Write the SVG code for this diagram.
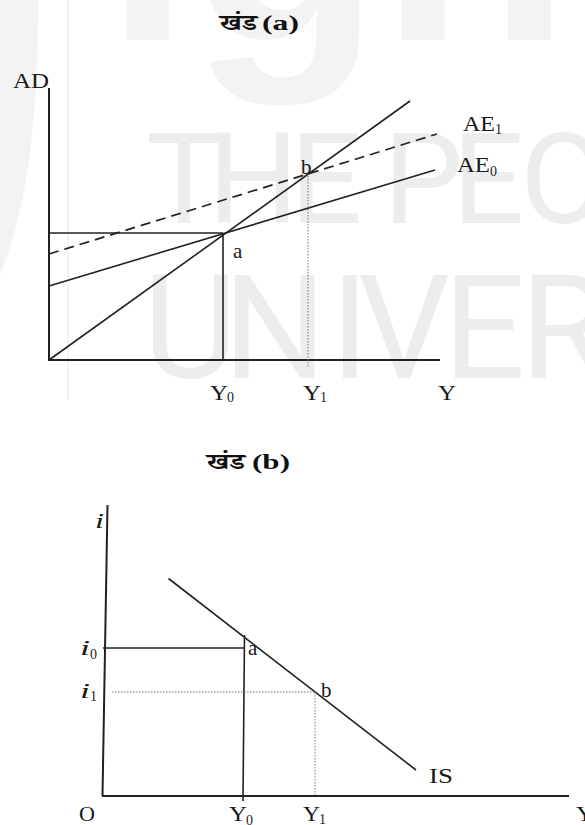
<svg xmlns="http://www.w3.org/2000/svg" width="585" height="825" viewBox="0 0 585 825">
<style>
.wm{fill:#ededed;font-family:Roboto,"Liberation Sans",sans-serif}
.lbl{font-family:"Liberation Serif","Times New Roman",serif;font-size:21px;fill:#1a1a1a}
.it{font-style:italic}
.ttl{font-family:"Liberation Serif","Noto Serif Devanagari","Noto Sans Devanagari","Lohit Devanagari",serif;font-size:22px;font-weight:bold;fill:#111}
.sub{font-size:14px}
.ax{stroke:#222;stroke-width:2;fill:none}
.ln{stroke:#222;stroke-width:1.6;fill:none}
.dash{stroke:#222;stroke-width:1.7;stroke-dasharray:10 6;fill:none}
.dot{stroke:#777;stroke-width:1;stroke-dasharray:1.5 1.5;fill:none}
</style>
<rect width="585" height="825" fill="#ffffff"/>
<g id="watermark">
<path d="M0,0 L38,0 C38,110 30,200 0,275 Z" fill="#f3f3f3"/>
<line x1="68" y1="0" x2="68" y2="400" stroke="#e6e6e6" stroke-width="1"/>
<text x="105" y="40" font-family="'Liberation Sans',sans-serif" font-weight="bold" font-size="310" fill="#f3f3f3">ignou</text>
<text class="wm" font-size="127" x="146 208 290 383 452 520" y="223">THEPEO</text>
<text class="wm" font-size="145" x="143 223 330 358 443 520" y="378">UNIVER</text>
</g>
<g id="panel-a">
<text class="ttl" x="220" y="30" textLength="37" lengthAdjust="spacingAndGlyphs">खंड</text>
<text class="ttl" x="262" y="30" textLength="37" lengthAdjust="spacingAndGlyphs">(a)</text>
<g id="connectors-a">
<line class="ax" x1="49" y1="88" x2="49" y2="360"/>
<line class="ax" x1="48" y1="360" x2="440" y2="360"/>
<line class="ln" x1="49" y1="360" x2="410" y2="101"/>
<line class="ln" x1="49" y1="286" x2="435" y2="170"/>
<line class="dash" x1="49" y1="254" x2="437" y2="134"/>
<line class="ln" x1="49" y1="233" x2="223" y2="233" stroke-width="1.8"/>
<line class="ln" x1="223" y1="233" x2="223" y2="360" stroke-width="1.9"/>
<line class="dot" x1="308" y1="173" x2="308" y2="368"/>
</g>
<g id="labels-a">
<text class="lbl" x="13" y="88" textLength="36" lengthAdjust="spacingAndGlyphs">AD</text>
<text class="lbl" x="463" y="131" textLength="32" lengthAdjust="spacingAndGlyphs">AE</text><text class="lbl sub" x="495" y="134">1</text>
<text class="lbl" x="457" y="172" textLength="33" lengthAdjust="spacingAndGlyphs">AE</text><text class="lbl sub" x="490" y="176">0</text>
<text class="lbl" x="233" y="258">a</text>
<text class="lbl" x="301" y="174">b</text>
<text class="lbl" x="210" y="400" textLength="18" lengthAdjust="spacingAndGlyphs">Y</text><text class="lbl sub" x="227" y="402">0</text>
<text class="lbl" x="303" y="400" textLength="18" lengthAdjust="spacingAndGlyphs">Y</text><text class="lbl sub" x="320" y="402">1</text>
<text class="lbl" x="438" y="400" textLength="18" lengthAdjust="spacingAndGlyphs">Y</text>
</g>
</g>
<g id="panel-b">
<text class="ttl" x="207" y="469" textLength="38" lengthAdjust="spacingAndGlyphs">खंड</text>
<text class="ttl" x="252" y="469" textLength="38" lengthAdjust="spacingAndGlyphs">(b)</text>
<g id="connectors-b">
<line class="ax" x1="107.5" y1="505" x2="102.5" y2="796"/>
<line class="ax" x1="102" y1="796" x2="569" y2="796"/>
<line class="ln" x1="168.5" y1="578.5" x2="416" y2="770"/>
<line class="ln" x1="103" y1="648" x2="244" y2="648" stroke-width="1.9"/>
<line class="ln" x1="244.5" y1="635" x2="243" y2="801" stroke-width="1.9"/>
<line class="dot" x1="112" y1="692" x2="316" y2="692"/>
<line class="dot" x1="315" y1="692" x2="315" y2="797"/>
</g>
<g id="labels-b">
<text class="lbl it" x="95" y="528" textLength="9" lengthAdjust="spacingAndGlyphs">i</text>
<text class="lbl it" x="80" y="655" textLength="10" lengthAdjust="spacingAndGlyphs">i</text><text class="lbl sub" x="90" y="659">0</text>
<text class="lbl it" x="80" y="698" textLength="10" lengthAdjust="spacingAndGlyphs">i</text><text class="lbl sub" x="90" y="701">1</text>
<text class="lbl" x="248" y="655">a</text>
<text class="lbl" x="321" y="697">b</text>
<text class="lbl" x="429" y="783" textLength="24" lengthAdjust="spacingAndGlyphs">IS</text>
<text class="lbl" x="79" y="821" textLength="16" lengthAdjust="spacingAndGlyphs">O</text>
<text class="lbl" x="229" y="821" textLength="18" lengthAdjust="spacingAndGlyphs">Y</text><text class="lbl sub" x="246" y="825">0</text>
<text class="lbl" x="303" y="821" textLength="17" lengthAdjust="spacingAndGlyphs">Y</text><text class="lbl sub" x="319" y="824">1</text>
<text class="lbl" x="576" y="821" textLength="18" lengthAdjust="spacingAndGlyphs">Y</text>
</g>
</g>
</svg>
